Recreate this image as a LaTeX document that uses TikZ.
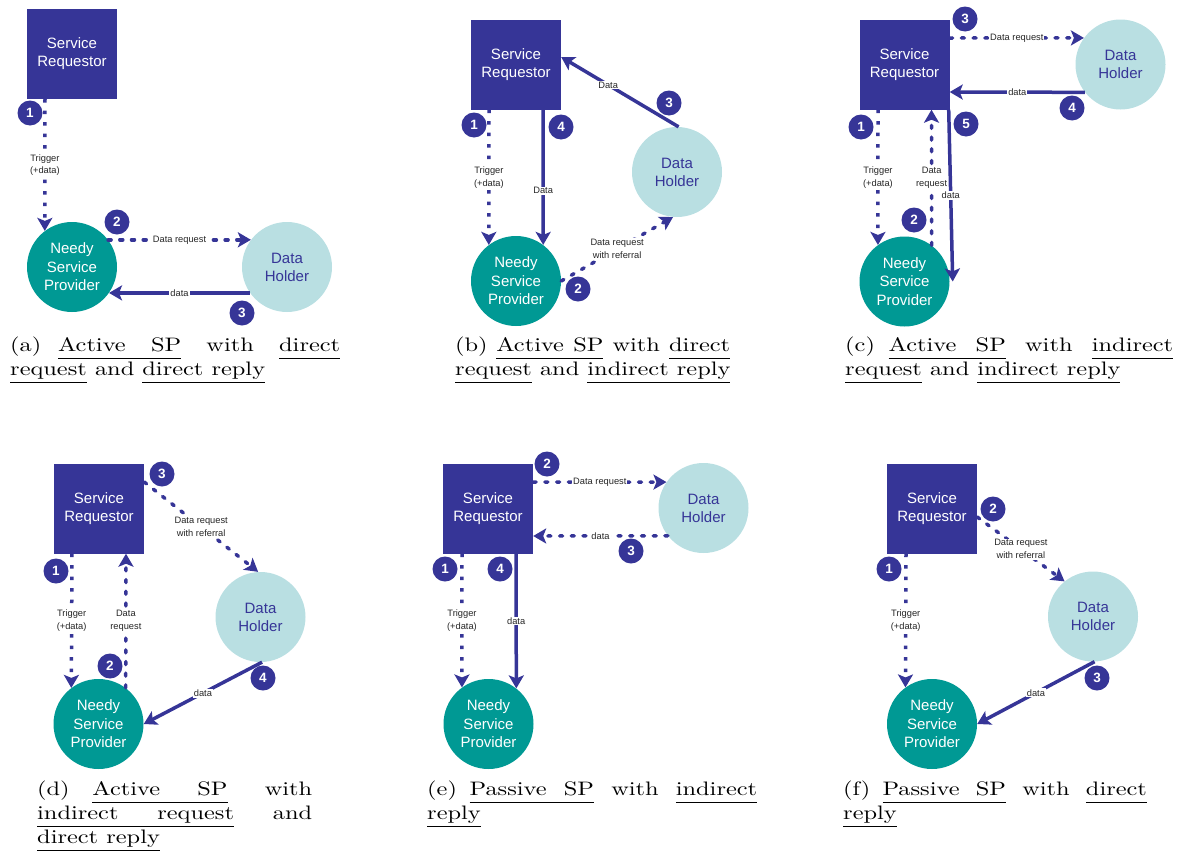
\documentclass[tikz,border=0pt]{standalone}
\usepackage{fontspec}
\usetikzlibrary{arrows.meta}
\newfontfamily\diagfont{Liberation Sans}
\newfontfamily\capfont{lmroman10-regular.otf}
\definecolor{srblue}{RGB}{54,53,151}
\definecolor{spteal}{RGB}{0,153,148}
\definecolor{dhcyan}{RGB}{185,223,226}
\newcommand\ulw[1]{\setbox0\hbox{#1}\rlap{\vrule height -6.9pt depth 7.8pt width \wd0}\box0\relax}
\newcommand\labgap{\hskip\fontdimen2\font plus 0.5fil}
\newcommand\gap{\hskip\fontdimen2\font plus 1fil}
\newcommand\ugap{\leaders\hrule height -6.9pt depth 7.8pt\hskip\fontdimen2\font plus 1fil}
\newcommand\unsp{\leaders\hrule height -6.9pt depth 7.8pt\hskip\fontdimen2\font}
\newcommand\capbox[1]{\scalebox{1.25}[1]{\capfont\fontsize{19.5}{24}\selectfont\vtop{#1}}}
\tikzset{
  requestor/.style={rectangle, fill=srblue, text=white, minimum size=90pt, inner sep=0pt, align=center, font=\diagfont\fontsize{15}{18}\selectfont},
  needy/.style={circle, fill=spteal, text=white, minimum size=90pt, inner sep=0pt, align=center, font=\diagfont\fontsize{15}{18.5}\selectfont},
  holder/.style={circle, fill=dhcyan, text=srblue, minimum size=90pt, inner sep=0pt, align=center, font=\diagfont\fontsize{15}{18}\selectfont},
  badge/.style={circle, fill=srblue, text=white, minimum size=25pt, inner sep=0pt, font=\diagfont\bfseries\fontsize{13.5}{13.5}\selectfont},
  msg/.style={fill=white, text=black!85, inner sep=1pt, align=center, font=\diagfont\fontsize{9.3}{12.8}\selectfont},
  tip/.style={-{Stealth[length=13pt,width=15pt,inset=3pt]}},
  trig/.style={tip, srblue, line width=3.5pt, dash pattern=on 3.5pt off 8pt},
  req/.style={tip, srblue, line width=3.5pt, line cap=round, dash pattern=on 3pt off 8.7pt},
  dat/.style={tip, srblue, line width=3.5pt},
  caption/.style={anchor=base west, inner sep=0pt}
}
\begin{document}
\begin{tikzpicture}[x=1pt,y=-1pt]
    \useasboundingbox (0,0) rectangle (1181,854);
    % (a)
    \node [requestor] (sra) at (72,54) {Service\\Requestor};
    \node [needy] (npa) at (72,267) {Needy\\Service\\Provider};
    \node [holder] (dha) at (287,267) {Data\\Holder};
    \draw [trig] ([xshift=-27pt]sra.south) -- (npa.127) node [msg,midway] (ta) {Trigger\\(+data)};
    \draw [req] (npa.37) -- (dha.143) node [msg,midway] (qa) {Data request};
    \draw [dat] (dha.215) -- (npa.325) node [msg,midway] (da) {data};
    \node [badge] (a1) at (30,113) {1};
    \node [badge] (a2) at (117,222) {2};
    \node [badge] (a3) at (242,313) {3};
    % (b)
    \node [requestor] (srb) at (516,64.5) {Service\\Requestor};
    \node [needy] (npb) at (516,281) {Needy\\Service\\Provider};
    \node [holder] (dhb) at (677,172) {Data\\Holder};
    \draw [trig] ([xshift=-27pt]srb.south) -- (npb.127) node [msg,midway] (tb) {Trigger\\(+data)};
    \draw [dat] ([xshift=27pt]srb.south) -- (npb.53) node [msg,pos=0.6] (db) {Data};
    \draw [dat] (dhb.88) -- ([yshift=7.5pt]srb.east) node [msg,pos=0.6] (eb) {Data};
    \draw [req] (npb.0) -- (dhb.265) node [msg,midway] (qb) {Data request\\with referral};
    \node [badge] (b1) at (474,125) {1};
    \node [badge] (b2) at (578,289) {2};
    \node [badge] (b3) at (669,103) {3};
    \node [badge] (b4) at (561,127) {4};
    % (c)
    \node [requestor] (src) at (904.5,64.5) {Service\\Requestor};
    \node [needy] (npc) at (904.5,281.5) {Needy\\Service\\Provider};
    \node [holder] (dhc) at (1120.5,64.5) {Data\\Holder};
    \draw [trig] ([xshift=-26.5pt]src.south) -- (npc.126) node [msg,midway] (tc) {Trigger\\(+data)};
    \draw [dat] ([xshift=-1pt]src.south east) -- ([xshift=3pt]npc.east) node [msg,midway] (dc) {data};
    \draw [req] (npc.53) -- ([xshift=27pt]src.south) node [msg,midway] (rc) {Data\\request};
    \draw [req] ([yshift=26.5pt]src.east) -- (dhc.144) node [msg,midway] (qc) {Data request};
    \draw [dat] (dhc.218) -- ([yshift=-27.5pt]src.east) node [msg,midway] (ec) {data};
    \node [badge] (c1) at (861,127) {1};
    \node [badge] (c2) at (914,220) {2};
    \node [badge] (c3) at (965,19) {3};
    \node [badge] (c4) at (1072,108) {4};
    \node [badge] (c5) at (966,124) {5};
    % (d)
    \node [requestor] (srd) at (99,508.5) {Service\\Requestor};
    \node [needy] (npd) at (98.5,724) {Needy\\Service\\Provider};
    \node [holder] (dhd) at (260.5,617) {Data\\Holder};
    \draw [trig] ([xshift=-27pt]srd.south) -- (npd.127) node [msg,midway] (td) {Trigger\\(+data)};
    \draw [req] (npd.53) -- ([xshift=27pt]srd.south) node [msg,midway] (rd) {Data\\request};
    \draw [req] ([yshift=26.5pt]srd.east) -- (dhd.93) node [msg,midway] (qd) {Data request\\with referral};
    \draw [dat] (dhd.-88) -- (npd.east) node [msg,midway] (dd) {data};
    \node [badge] (d1) at (56,571) {1};
    \node [badge] (d2) at (110,666) {2};
    \node [badge] (d3) at (162,474) {3};
    \node [badge] (d4) at (263,678) {4};
    % (e)
    \node [requestor] (sre) at (488,508.5) {Service\\Requestor};
    \node [needy] (npe) at (488.5,724) {Needy\\Service\\Provider};
    \node [holder] (dhe) at (703.5,508) {Data\\Holder};
    \draw [trig] ([xshift=-26pt]sre.south) -- (npe.126) node [msg,midway] (te) {Trigger\\(+data)};
    \draw [dat] ([xshift=28pt]sre.south) -- (npe.52) node [msg,midway] (de) {data};
    \draw [req] ([yshift=26.5pt]sre.east) -- (dhe.145) node [msg,midway] (qe) {Data request};
    \draw [req] (dhe.218) -- ([yshift=-27.5pt]sre.east) node [msg,midway] (ee) {data};
    \node [badge] (e1) at (445,569) {1};
    \node [badge] (e2) at (547,464) {2};
    \node [badge] (e3) at (631,551) {3};
    \node [badge] (e4) at (500,569) {4};
    % (f)
    \node [requestor] (srf) at (932,508.5) {Service\\Requestor};
    \node [needy] (npf) at (932,724) {Needy\\Service\\Provider};
    \node [holder] (dhf) at (1093,616.5) {Data\\Holder};
    \draw [trig] ([xshift=-26pt]srf.south) -- (npf.126) node [msg,midway] (tf) {Trigger\\(+data)};
    \draw [req] ([yshift=-8.5pt]srf.east) -- (dhf.129) node [msg,midway] (qf) {Data request\\with referral};
    \draw [dat] (dhf.-88) -- (npf.east) node [msg,midway] (df) {data};
    \node [badge] (f1) at (889,569) {1};
    \node [badge] (f2) at (993,509) {2};
    \node [badge] (f3) at (1097,678) {3};
    % captions
    \node [caption] (capa) at (10,351) {\capbox{\hbox to 264pt{(a)\labgap\ulw{Active}\ugap\ulw{SP}\gap with\gap\ulw{direct}}\hbox{\ulw{request} and \ulw{direct}\unsp\ulw{reply}}}};
    \node [caption] (capb) at (455,351) {\capbox{\hbox to 220pt{(b)\labgap\ulw{Active}\ugap\ulw{SP}\gap with\gap\ulw{direct}}\hbox{\ulw{request} and \ulw{indirect}\unsp\ulw{reply}}}};
    \node [caption] (capc) at (845,351) {\capbox{\hbox to 262.4pt{(c)\labgap\ulw{Active}\ugap\ulw{SP}\gap with\gap\ulw{indirect}}\hbox{\ulw{request} and \ulw{indirect}\unsp\ulw{reply}}}};
    \node [caption] (capd) at (37,795) {\capbox{\hbox to 220pt{(d)\labgap\ulw{Active}\ugap\ulw{SP}\gap with}\hbox to 220pt{\ulw{indirect}\ugap\ulw{request}\gap and}\hbox{\ulw{direct}\unsp\ulw{reply}}}};
    \node [caption] (cape) at (427,795) {\capbox{\hbox to 264pt{(e)\labgap\ulw{Passive}\ugap\ulw{SP}\gap with\gap\ulw{indirect}}\hbox{\ulw{reply}}}};
    \node [caption] (capf) at (843,795) {\capbox{\hbox to 243pt{(f)\labgap\ulw{Passive}\ugap\ulw{SP}\gap with\gap\ulw{direct}}\hbox{\ulw{reply}}}};
\end{tikzpicture}
\end{document}
